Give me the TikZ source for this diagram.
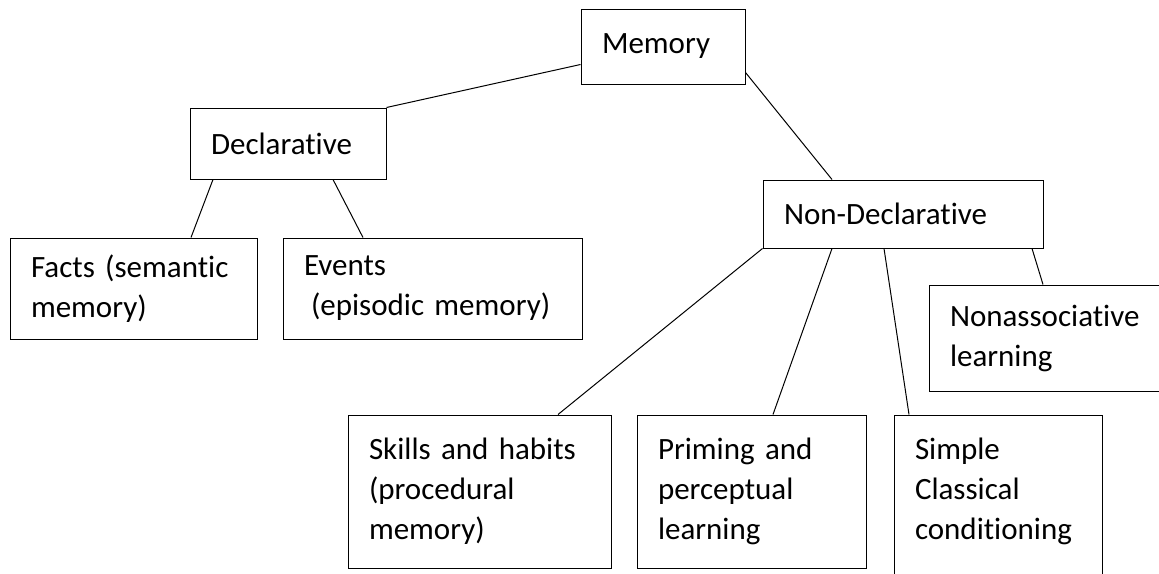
\documentclass[tikz,border=0pt]{standalone}
\usepackage{fontspec}
\setmainfont{Carlito}[Ligatures=NoCommon]
\usetikzlibrary{positioning}

\begin{document}
\begin{tikzpicture}[on grid,
    box/.style={draw, rectangle, line width=1pt, align=left,
        inner xsep=21pt, inner ysep=0pt,
        font=\fontsize{31}{40}\selectfont},
    link/.style={line width=1pt}]
    \useasboundingbox (0,0) rectangle (1159pt,-573pt);

    \node[box, text width=122pt, minimum height=75pt] (mem) at (663pt,-46.5pt) {Memory};
    \node[box, text width=154pt, minimum height=71pt] (decl) [below left=97pt and 375pt of mem] {Declarative};
    \node[box, text width=205pt, minimum height=101pt] (facts) [below left=145pt and 154.5pt of decl] {Facts (semantic\\memory)};
    \node[box, text width=257pt, minimum height=101pt] (events) [below right=145pt and 144.5pt of decl] {Events\\\hspace*{7pt}(episodic memory)};
    \node[box, text width=238pt, minimum height=68pt] (nondecl) [below right=167.5pt and 240pt of mem] {Non-Declarative};
    \node[box, text width=199pt, minimum height=106pt] (nonassoc) [below right=124pt and 146.5pt of nondecl] {Nonassociative\\learning};
    \node[box, text width=221pt, minimum height=153pt] (skills) [below left=277.5pt and 423.5pt of nondecl] {Skills and habits\\(procedural\\memory)};
    \node[box, text width=187pt, minimum height=153pt] (priming) [below left=277.5pt and 151.5pt of nondecl] {Priming and\\perceptual\\learning};
    \node[box, text width=166pt, minimum height=185pt, text height=22pt, text depth=118pt] (simple) [below right=293.5pt and 95pt of nondecl] {Simple\\Classical\\conditioning};

    \path[link]
    (decl.north east) edge ([yshift=-18pt]mem.west)
    ([yshift=-26pt]mem.east) edge ([xshift=-71pt]nondecl.north)
    ([xshift=-75pt]decl.south) edge ([xshift=57.5pt]facts.north)
    ([xshift=45pt]decl.south) edge ([xshift=-69.5pt]events.north)
    (nondecl.south west) edge ([xshift=78.5pt]skills.north)
    ([xshift=-71pt]nondecl.south) edge ([xshift=21.5pt]priming.north)
    ([xshift=-19pt]nondecl.south) edge ([xshift=-89pt]simple.north)
    ([xshift=129pt]nondecl.south) edge ([xshift=-6.5pt]nonassoc.north)
    ;
\end{tikzpicture}
\end{document}
